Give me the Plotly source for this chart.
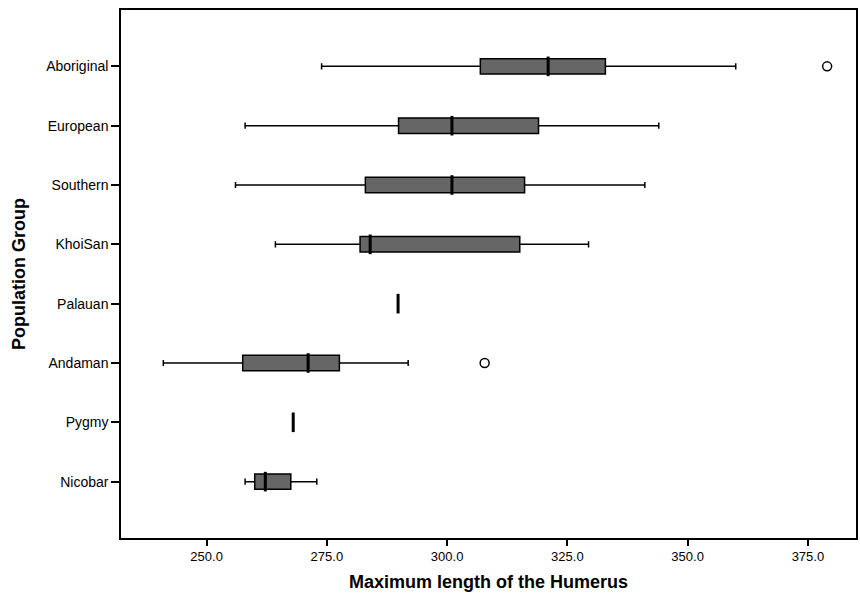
import plotly.graph_objects as go

groups = ["Aboriginal", "European", "Southern", "KhoiSan", "Palauan", "Andaman", "Pygmy", "Nicobar"]
lower = [273.9, 258.0, 256.0, 264.3, None, 241.0, None, 258.0]
q1 = [306.9, 289.9, 283.0, 281.9, None, 257.5, None, 260.0]
median = [321.0, 301.0, 301.0, 284.0, 289.8, 271.1, 268.0, 262.2]
q3 = [332.9, 319.0, 316.1, 315.1, None, 277.6, None, 267.5]
upper = [360.0, 344.0, 341.1, 329.4, None, 291.9, None, 272.9]
outlier_group = ["Aboriginal", "Andaman"]
outlier_val = [379.0, 307.8]
tick_vals = [250, 275, 300, 325, 350, 375]

FONT = "Liberation Sans, Arial, sans-serif"

idx = [i for i in range(len(groups)) if q1[i] is not None]

fig = go.Figure()
fig.add_trace(go.Box(
    orientation="h",
    y=[groups[i] for i in idx],
    q1=[q1[i] for i in idx],
    median=[median[i] for i in idx],
    q3=[q3[i] for i in idx],
    lowerfence=[lower[i] for i in idx],
    upperfence=[upper[i] for i in idx],
    fillcolor="#666666",
    line=dict(color="black", width=1.5),
    whiskerwidth=0.4,
    width=0.26,
    boxpoints=False,
    hoverinfo="skip",
    showlegend=False,
))
# thick median lines (including single-value groups)
fig.add_trace(go.Scatter(
    x=median, y=groups, mode="markers",
    marker=dict(symbol="line-ns", size=14, line=dict(color="black", width=3)),
    hoverinfo="skip", showlegend=False,
))
fig.add_trace(go.Scatter(
    x=outlier_val, y=outlier_group, mode="markers",
    marker=dict(symbol="circle-open", size=9, color="black", line=dict(color="black", width=1.5)),
    hoverinfo="skip", showlegend=False,
))

fig.update_layout(
    width=860, height=594,
    margin=dict(l=121, r=2, t=10, b=56),
    paper_bgcolor="white", plot_bgcolor="white",
    font=dict(family=FONT, color="black", size=13),
    xaxis=dict(
        range=[232.2, 385.0], tickvals=tick_vals, ticktext=[f"{v:.1f}" for v in tick_vals],
        ticks="outside", ticklen=6, tickwidth=1.5, tickcolor="black",
        showline=True, linecolor="black", linewidth=1.5, mirror=True,
        showgrid=False, zeroline=False,
        tickfont=dict(size=13, family=FONT),
        title=dict(text="<b>Maximum length of the Humerus</b>", font=dict(size=18, family=FONT), standoff=12),
    ),
    yaxis=dict(
        type="category", categoryorder="array", categoryarray=groups,
        range=[7.95, -0.95],
        ticks="outside", ticklen=8, tickwidth=1.5, tickcolor="black",
        showline=True, linecolor="black", linewidth=1.5, mirror=True,
        showgrid=False, zeroline=False,
        tickfont=dict(size=14, family=FONT),
        title=dict(text="<b>Population Group</b>", font=dict(size=18, family=FONT), standoff=16),
    ),
)

fig.write_html("out.html")
